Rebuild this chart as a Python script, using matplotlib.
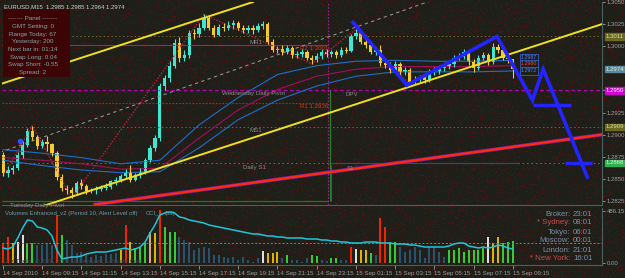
import numpy as np
import matplotlib.pyplot as plt
from matplotlib.patches import Rectangle

plt.rcParams['font.family'] = ['Liberation Sans', 'DejaVu Sans']

# EURUSD M15 bars, 14 Sep 07:15 -> 15 Sep 09:15 (open of bar i = close of bar i-1)
first_open = 1.2877
closes = [1.2857, 1.2860, 1.2862, 1.2877, 1.2888, 1.2904, 1.2897, 1.2887, 1.2892, 1.2889,
          1.2879, 1.2852, 1.2840, 1.2837, 1.2834, 1.2845, 1.2842, 1.2836, 1.2837, 1.2839,
          1.2840, 1.2841, 1.2847, 1.2849, 1.2853, 1.2858, 1.2849, 1.2854, 1.2858, 1.2871,
          1.2885, 1.2896, 1.2955, 1.2964, 1.2978, 1.3004, 1.2987, 1.2990, 1.3015, 1.3014,
          1.3021, 1.3032, 1.3021, 1.3013, 1.3022, 1.3021, 1.3024, 1.3026, 1.3021, 1.3018,
          1.3021, 1.3018, 1.3023, 1.3025, 1.3005, 1.2996, 1.2997, 1.2994, 1.2998, 1.2990,
          1.2991, 1.2994, 1.2987, 1.2984, 1.2989, 1.2994, 1.2991, 1.2993, 1.2990, 1.2996,
          1.2995, 1.3011, 1.3015, 1.3005, 1.3001, 1.2994, 1.2996, 1.2981, 1.2979, 1.2973,
          1.2980, 1.2971, 1.2973, 1.2960, 1.2962, 1.2965, 1.2962, 1.2971, 1.2972, 1.2975,
          1.2977, 1.2980, 1.2987, 1.2988, 1.2994, 1.2982, 1.2975, 1.2987, 1.2990, 1.2982,
          1.2999, 1.2996, 1.2987, 1.2985, 1.2974]
highs = [1.2880, 1.2864, 1.2866, 1.2880, 1.2893, 1.2907, 1.2910, 1.2900, 1.2895, 1.2898,
         1.2891, 1.2881, 1.2855, 1.2843, 1.2841, 1.2848, 1.2850, 1.2844, 1.2840, 1.2842,
         1.2843, 1.2845, 1.2849, 1.2852, 1.2856, 1.2861, 1.2866, 1.2857, 1.2862, 1.2873,
         1.2888, 1.2900, 1.2958, 1.2968, 1.2983, 1.3008, 1.3010, 1.2996, 1.3018, 1.3020,
         1.3026, 1.3036, 1.3035, 1.3024, 1.3025, 1.3026, 1.3028, 1.3030, 1.3029, 1.3024,
         1.3024, 1.3024, 1.3026, 1.3029, 1.3027, 1.3008, 1.3000, 1.3001, 1.3001, 1.3000,
         1.2995, 1.2997, 1.2996, 1.2990, 1.2992, 1.2997, 1.2997, 1.2996, 1.2996, 1.2999,
         1.2999, 1.3014, 1.3019, 1.3017, 1.3013, 1.3004, 1.2999, 1.3001, 1.2985, 1.2982,
         1.2983, 1.2982, 1.2977, 1.2975, 1.2966, 1.2968, 1.2968, 1.2974, 1.2976, 1.2979,
         1.2980, 1.2983, 1.2990, 1.2992, 1.2997, 1.2996, 1.2985, 1.2990, 1.2993, 1.2992,
         1.3004, 1.3002, 1.2999, 1.2991, 1.2985]
lows = [1.2853, 1.2852, 1.2856, 1.2860, 1.2874, 1.2886, 1.2894, 1.2884, 1.2885, 1.2882,
        1.2876, 1.2849, 1.2836, 1.2833, 1.2828, 1.2832, 1.2838, 1.2833, 1.2834, 1.2833,
        1.2836, 1.2837, 1.2839, 1.2843, 1.2846, 1.2851, 1.2846, 1.2847, 1.2851, 1.2856,
        1.2869, 1.2882, 1.2893, 1.2950, 1.2960, 1.2975, 1.2982, 1.2983, 1.2987, 1.3008,
        1.3010, 1.3018, 1.3018, 1.3010, 1.3011, 1.3017, 1.3018, 1.3020, 1.3018, 1.3015,
        1.3015, 1.3014, 1.3016, 1.3020, 1.3002, 1.2993, 1.2992, 1.2990, 1.2991, 1.2987,
        1.2987, 1.2988, 1.2984, 1.2980, 1.2982, 1.2986, 1.2988, 1.2988, 1.2987, 1.2988,
        1.2992, 1.2993, 1.3008, 1.3002, 1.2998, 1.2991, 1.2990, 1.2978, 1.2975, 1.2970,
        1.2971, 1.2968, 1.2968, 1.2957, 1.2957, 1.2959, 1.2958, 1.2960, 1.2967, 1.2969,
        1.2972, 1.2974, 1.2977, 1.2984, 1.2985, 1.2979, 1.2971, 1.2973, 1.2984, 1.2979,
        1.2980, 1.2992, 1.2984, 1.2981, 1.2964]

# bollinger-ish bands, read every 8 bars
band_bars = [0, 8, 16, 24, 32, 40, 48, 56, 64, 72, 80, 88, 96, 104]
band_up = [1.2883, 1.2879, 1.2874, 1.2867, 1.2871, 1.2911, 1.2942, 1.2968, 1.2978, 1.2983, 1.2984, 1.2983, 1.2983, 1.2984]
band_mid = [1.2874, 1.2871, 1.2867, 1.2861, 1.2862, 1.2896, 1.2928, 1.2951, 1.2966, 1.2974, 1.2977, 1.2977, 1.2977, 1.2978]
band_lo = [1.2871, 1.2865, 1.2860, 1.2857, 1.2858, 1.2885, 1.2917, 1.2939, 1.2955, 1.2966, 1.2971, 1.2971, 1.2971, 1.2972]

# drawn objects (bar, price)
chan_hi_bars, chan_hi_prices = [-0.6, 51.0], [1.2957, 1.3050]
chan_lo_bars, chan_lo_prices = [8.6, 122.2], [1.2820, 1.3025]
chan_mid_bars, chan_mid_prices = [-0.6, 87.1], [1.2880, 1.3051]
red_trend_bars, red_trend_prices = [18.8, 122.2], [1.2821, 1.2900]
zz_bars = [0, 6, 14, 41, 63, 72, 83]
zz_prices = [1.2853, 1.2910, 1.2828, 1.3036, 1.2980, 1.3019, 1.2957]
wave_bars = [71.4, 82.4, 100.8, 108.0, 110.2, 119.2]
wave_prices = [1.3027, 1.2956, 1.3011, 1.2939, 1.2974, 1.2852]
target1_bars, target1_price = [108.2, 115.9], 1.2934
target2_bars, target2_price = [114.7, 120.2], 1.2868

# pivot levels
lvl_r2, lvl_r1, lvl_pivot_wed, lvl_s1, lvl_pivot_tue = 1.3001, 1.2936, 1.2950, 1.2868, 1.2825
lvl_hi, lvl_lo = 1.3011, 1.2909
last_price = 1.2974
day_bar = 66.3

# volumes panel
volumes = [187, 243, 187, 196, 262, 187, 187, 168, 168, 187, 168, 449, 262, 215, 168, 94, 103, 75, 56, 75,
           65, 84, 84, 94, 122, 355, 196, 140, 150, 187, 290, 281, 496, 337, 290, 290, 243, 215, 196, 122,
           140, 150, 140, 75, 75, 56, 47, 56, 28, 56, 28, 12, 47, 112, 94, 94, 103, 47, 75, 28,
           28, 12, 47, 75, 65, 28, 19, 47, 47, 28, 28, 150, 131, 122, 122, 94, 75, 421, 337, 196,
           196, 150, 103, 122, 150, 122, 47, 150, 150, 103, 56, 122, 122, 140, 103, 122, 122, 122, 140, 243,
           187, 243, 187, 196, 206]
vol_codes = ("rrywwggbbbb" "rgbbbbbbbbbbb" "yrygggoyrggg" "bbbbbbbbbbbbbbbbb" "wyyy"
             "bgbbbbggbbggbb" "rwyygb" "rrggbbbbbbbbbb" "gggggggg" "wyyggg")
vol_avg = 187
cci = [-25, -30, -20, 25, 75, 115, 110, 80, 75, 65, 35, -35, -80, -75, -70, -70, -65, -55, -50, -45,
       -45, -45, -40, -35, -30, -25, -35, -30, -20, 5, 50, 90, 140, 150, 155, 150, 130, 125, 115, 110,
       105, 100, 90, 85, 80, 75, 70, 65, 60, 55, 50, 45, 45, 40, 35, 35, 30, 30, 25, 25,
       25, 25, 20, 20, 20, 15, 15, 10, 10, 5, 5, 0, 0, 0, 5, 5, 5, 0, 0, 0,
       -5, -5, -5, -10, -10, -15, -20, -20, -20, -20, -20, -15, -5, 0, 0, -15, -20, -25, -20, -25,
       -20, -10, -15, -25, -30]

time_bars = [0, 8, 16, 24, 32, 40, 48, 56, 64, 72, 80, 88, 96, 104]
time_labels = ['14 Sep 2010', '14 Sep 09:15', '14 Sep 11:15', '14 Sep 13:15', '14 Sep 15:15',
               '14 Sep 17:15', '14 Sep 19:15', '14 Sep 21:15', '14 Sep 23:15', '15 Sep 01:15',
               '15 Sep 03:15', '15 Sep 05:15', '15 Sep 07:15', '15 Sep 09:15']
price_ticks = [1.2825, 1.2850, 1.2875, 1.2900, 1.2925, 1.2950, 1.3000, 1.3025, 1.3050]

BG = '#1f1f19'
GRID = '#6a6a30'
TXT = '#9aa0a0'
UP, DOWN = '#3fe6d0', '#f2cc30'
VOLCOL = {'r': '#ff2a00', 'y': '#f0c400', 'w': '#f4f4f4', 'g': '#3cdc3c', 'b': '#2c5878', 'o': '#e8b888'}
FS = 4.4

W, H = 625, 278


def box(x0, y0, x1, y1):
    return [x0 / W, 1 - y1 / H, (x1 - x0) / W, (y1 - y0) / H]


def ftext(x, y, s, **kw):
    kw.setdefault('fontsize', FS)
    kw.setdefault('va', 'center')
    fig.text(x / W, 1 - y / H, s, **kw)


fig = plt.figure(figsize=(W / 100, H / 100), dpi=100, facecolor=BG)

# speckled red screen texture (integer hash, purely cosmetic)
axbg = fig.add_axes([0, 0, 1, 1], zorder=-5)
yy, xx = np.indices((H, W)).astype(np.uint64)
h = xx * np.uint64(374761393) + yy * np.uint64(668265263)
h = (h ^ (h >> np.uint64(13))) * np.uint64(1274126177)
h = h ^ (h >> np.uint64(16))
tex = np.zeros((H, W, 4))
tex[(h % np.uint64(11)) == 0] = [0.40, 0.07, 0.07, 0.6]
axbg.imshow(tex, interpolation='nearest', aspect='auto')
axbg.axis('off')

ax = fig.add_axes(box(2, 2, 602, 205), facecolor='none')
axv = fig.add_axes(box(2, 208, 602, 265), facecolor='none')

for a in (ax, axv):
    a.set_xlim(-0.2, 122.2)
    for s in a.spines.values():
        s.set_color('#4a6060')
    a.spines['left'].set_visible(False)
    a.spines['top'].set_visible(False)

ax.set_ylim(1.28204, 1.30500)

# horizontal levels
ax.axhline(lvl_hi, color=GRID, ls=(0, (1.5, 2.5)), lw=0.7)
ax.axhline(lvl_lo, color=GRID, ls=(0, (1.5, 2.5)), lw=0.7)
ax.axhline(lvl_pivot_wed, color='#b000b0', ls=(0, (3, 2)), lw=0.9)
ax.axhline(lvl_s1, color='#2a8a2a', ls=(0, (1.5, 2.5)), lw=0.8)
ax.hlines(lvl_r2, -0.2, day_bar, color='#a0206a', lw=0.8)
ax.hlines(lvl_r1, -0.2, day_bar, color='#c02020', ls=(0, (1.5, 1.5)), lw=0.8)
ax.hlines(lvl_pivot_tue, -0.2, day_bar, color='#1e7a1e', lw=0.9)
ax.hlines(lvl_s1, day_bar, 105, color='#2840c0', lw=0.8)
ax.axvline(day_bar, color='#a02090', ls=(0, (1.5, 1.5)), lw=0.8)
ax.vlines(day_bar + 0.4, lvl_pivot_tue, lvl_pivot_wed, color='#1e8a1e', lw=0.8)
ax.vlines(day_bar + 0.7, lvl_pivot_tue, lvl_s1 - 0.0002, color='#3040ff', lw=0.8)

# bands
ax.plot(band_bars, band_up, color='#1e6ec8', lw=0.8)
ax.plot(band_bars, band_mid, color='#a0105a', lw=0.8)
ax.plot(band_bars, band_lo, color='#1e6ec8', lw=0.8)

# trend lines
ax.plot(chan_mid_bars, chan_mid_prices, color='#909090', ls=(0, (3, 3)), lw=0.8)
ax.plot(red_trend_bars, red_trend_prices, color='#8020a0', lw=2.6)
ax.plot(red_trend_bars, red_trend_prices, color='#ff2a10', lw=1.6)
ax.plot(zz_bars, zz_prices, color='#c02040', ls=(0, (1.2, 1.2)), lw=0.9)

# candles
n = len(closes)
xs = np.arange(n)
opens = np.array([first_open] + closes[:-1])
cl = np.array(closes)
cols = [UP if c > o else DOWN if c < o else '#b0b0b0' for o, c in zip(opens, cl)]
ax.vlines(xs, lows, highs, colors=cols, lw=0.8)
ax.bar(xs, np.maximum(np.abs(cl - opens), 0.00004), bottom=np.minimum(opens, cl),
       width=0.66, color=cols, lw=0)

ax.plot(chan_hi_bars, chan_hi_prices, color='#f0e020', lw=1.4)
ax.plot(chan_lo_bars, chan_lo_prices, color='#f0e020', lw=1.4)

# hand drawn projection
ax.plot(wave_bars, wave_prices, color='#2424ff', lw=2.6, solid_joinstyle='miter')
ax.hlines(target1_price, *target1_bars, color='#2424ff', lw=2.4)
ax.hlines(target2_price, *target2_bars, color='#2424ff', lw=2.4)
ax.plot(3.5, 1.2893, 'o', ms=3, color='#3050ff')

# right price scale
ax.yaxis.tick_right()
ax.set_yticks(price_ticks)
ax.set_yticklabels(['%.4f' % p for p in price_ticks])
ax.tick_params(axis='y', labelsize=4.3, colors=TXT, length=2, pad=1.5, width=0.6)
ax.set_xticks([])
ytr = ax.get_yaxis_transform()
tags = [(lvl_hi, '#6a6a20', '#e0e0a0'), (last_price, '#5a8898', '#e0f0f0'),
        (lvl_pivot_wed, '#d000d0', '#ffffff'), (lvl_lo, '#6a6a20', '#e0e0a0'),
        (lvl_s1, '#30b050', '#e0ffe0')]
for p, fc, tc in tags:
    ax.text(1.006, p, '%.4f' % p, transform=ytr, fontsize=4.3, color=tc, va='center', ha='left',
            bbox=dict(boxstyle='square,pad=0.1', fc=fc, ec=fc), clip_on=False)

# band end values
for p, c in [(band_up[-1] + 0.0003, '#4a80ff'), (band_mid[-1] + 0.0002, '#ff4040'), (band_lo[-1], '#4a80ff')]:
    ax.text(105.6, p, '%.4f' % p, fontsize=3.8, color=c, va='center', ha='left',
            bbox=dict(boxstyle='square,pad=0.2', fc=BG, ec='#3060c0', lw=0.6))

# level captions
ftext(222, 94, 'Wednesday Daily Pivot', color='#8a8a8a')
ftext(345, 94, 'DPV', color='#8a8a8a')
ftext(250, 131, 'MS1', color='#8a8a8a')
ftext(250, 42, 'MR1', color='#8a8a8a')
ftext(243, 168, 'Daily S1', color='#8a8a8a')
ftext(347, 168, 'S1', color='#8a8a8a')
ftext(300, 49, 'R2 1.3001', color='#c04020')
ftext(300, 106, 'R1 1.2936', color='#c04020')
ftext(10, 205, 'Tuesday Daily Pivot', color='#8a8a8a')

# title and info panel
ftext(4, 7, 'EURUSD,M15  1.2985 1.2985 1.2964 1.2974', color='#d0d0d0', fontsize=4.3)
fig.patches.append(Rectangle((3 / W, 1 - 77 / H), 67 / W, 68 / H, transform=fig.transFigure,
                             fc='#3c0404', ec='none', zorder=3))
panel = ['------- Panel -------', 'GMT Setting: 0', 'Range Today: 67', 'Yesterday: 200',
         'Next bar in: 01:14', 'Swap Long: 0.04', 'Swap Short: -0.55', 'Spread: 2']
for k, s in enumerate(panel):
    ftext(33, 19 + k * 7.6, s, color='#7fa8a8', ha='center', zorder=4, fontsize=4.5)

# volumes
axv.set_ylim(-19, 514)
axv.vlines(xs, 0, volumes, colors=[VOLCOL[c] for c in vol_codes], lw=1.3)
axv.axhline(vol_avg, color='#808080', ls=(0, (2, 2)), lw=0.7)
axc = axv.twinx()
axc.set_ylim(-110, 175)
axc.plot(xs, cci, color='#22c4d8', lw=1.1)
axc.axis('off')

axv.yaxis.tick_right()
axv.set_yticks([0, 486.15])
axv.set_yticklabels(['0.00', '486.15'])
axv.tick_params(axis='y', labelsize=4.3, colors=TXT, length=2, pad=1.5, width=0.6)
axv.set_xticks(time_bars)
axv.set_xticklabels(time_labels, ha='left')
axv.tick_params(axis='x', labelsize=FS, colors=TXT, length=3, pad=1, width=0.6)

ftext(5, 213, 'Volumes Enhanced_v2 (Period 10, Alert Level off)', color='#6a98a8', fontsize=4.3)
ftext(146, 213, 'CCI_', color='#6a98a8', fontsize=4.3)
ftext(165, 213, '(53)', color='#6a98a8', fontsize=4.3)
ftext(3, 262, 'EFX Trade (c) 2001-2009 MetaQuotes Software Corp.', color='#3a4646', fontsize=4.2)

clocks = [('Broker:', '23:01', '#7890a8'), ('* Sydney:', '08:01', '#c05050'),
          ('Tokyo:', '06:01', '#7890a8'), ('Moscow:', '00:01', '#7890a8'),
          ('London:', '21:01', '#7890a8'), ('* New York:', '16:01', '#c05050')]
for k, (name, t, c) in enumerate(clocks):
    ftext(570, 214 + k * 9, name, color=c, ha='right', fontsize=5.6)
    ftext(573, 214 + k * 9, t, color='#7890a8', ha='left', fontsize=5.6)

fig.savefig('out.png', dpi=100, facecolor=BG)
